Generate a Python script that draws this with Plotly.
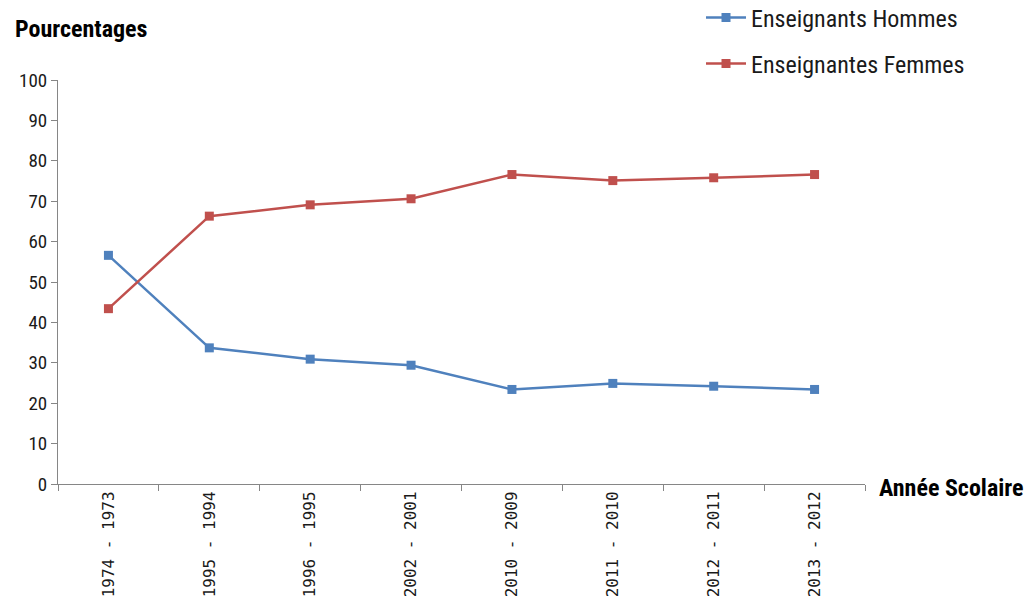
import plotly.graph_objects as go

categories = ["1974 - 1973", "1995 - 1994", "1996 - 1995", "2002 - 2001",
              "2010 - 2009", "2011 - 2010", "2012 - 2011", "2013 - 2012"]
hommes = [56.6, 33.7, 30.9, 29.4, 23.4, 24.9, 24.2, 23.4]
femmes = [43.4, 66.3, 69.1, 70.6, 76.6, 75.1, 75.8, 76.6]
y_ticks = [0, 10, 20, 30, 40, 50, 60, 70, 80, 90, 100]

BLUE = "#4F81BD"
RED = "#C0504D"
AXIS = "#868686"
NARROW = "Liberation Sans Narrow, Arial Narrow, Roboto Condensed, Roboto, sans-serif"

W, H = 1030, 608
ml, mr, mt, mb = 58, 165, 80, 124
pw = W - ml - mr
ph = H - mt - mb

def px_x(p):
    return (p - ml) / pw

def px_y(p):
    return 1 + (mt - p) / ph

fig = go.Figure()
fig.add_trace(go.Scatter(
    x=categories, y=hommes, name="Enseignants Hommes", mode="lines+markers",
    line=dict(color=BLUE, width=2.5), marker=dict(symbol="square", size=9, color=BLUE),
    legend="legend"))
fig.add_trace(go.Scatter(
    x=categories, y=femmes, name="Enseignantes Femmes", mode="lines+markers",
    line=dict(color=RED, width=2.5), marker=dict(symbol="square", size=9, color=RED),
    legend="legend2"))

legend_common = dict(font=dict(family=NARROW, size=24, color="#1a1a1a"),
                     bgcolor="rgba(0,0,0,0)", itemwidth=40, xanchor="left", yanchor="middle")

fig.update_layout(
    width=W, height=H,
    margin=dict(l=ml, r=mr, t=mt, b=mb, autoexpand=False),
    paper_bgcolor="white", plot_bgcolor="white",
    showlegend=True,
    legend=dict(x=px_x(701), y=px_y(18), **legend_common),
    legend2=dict(x=px_x(701), y=px_y(64), **legend_common),
    xaxis=dict(
        type="category", range=[-0.5, 7.5], showgrid=False, zeroline=False,
        showline=True, linecolor=AXIS, linewidth=1,
        ticks="outside", tickson="boundaries", ticklen=6, tickcolor=AXIS,
        tickangle=-90,
        tickfont=dict(family="DejaVu Sans Mono, Liberation Mono, monospace", size=16, color="#1a1a1a"),
    ),
    yaxis=dict(
        range=[0, 100], tickvals=y_ticks, showgrid=False, zeroline=False,
        showline=True, linecolor=AXIS, linewidth=1,
        ticks="outside", ticklen=6, tickcolor=AXIS,
        tickfont=dict(family=NARROW, size=19, color="#1a1a1a"),
    ),
    annotations=[
        dict(text="<b>Pourcentages</b>", xref="paper", yref="paper",
             x=px_x(13), y=px_y(29), xanchor="left", yanchor="middle", showarrow=False,
             font=dict(family=NARROW, size=24, color="#000000")),
        dict(text="<b>Année Scolaire</b>", xref="paper", yref="paper",
             x=px_x(877), y=px_y(488), xanchor="left", yanchor="middle", showarrow=False,
             font=dict(family=NARROW, size=24, color="#000000")),
    ],
)

fig.write_html("out.html")
